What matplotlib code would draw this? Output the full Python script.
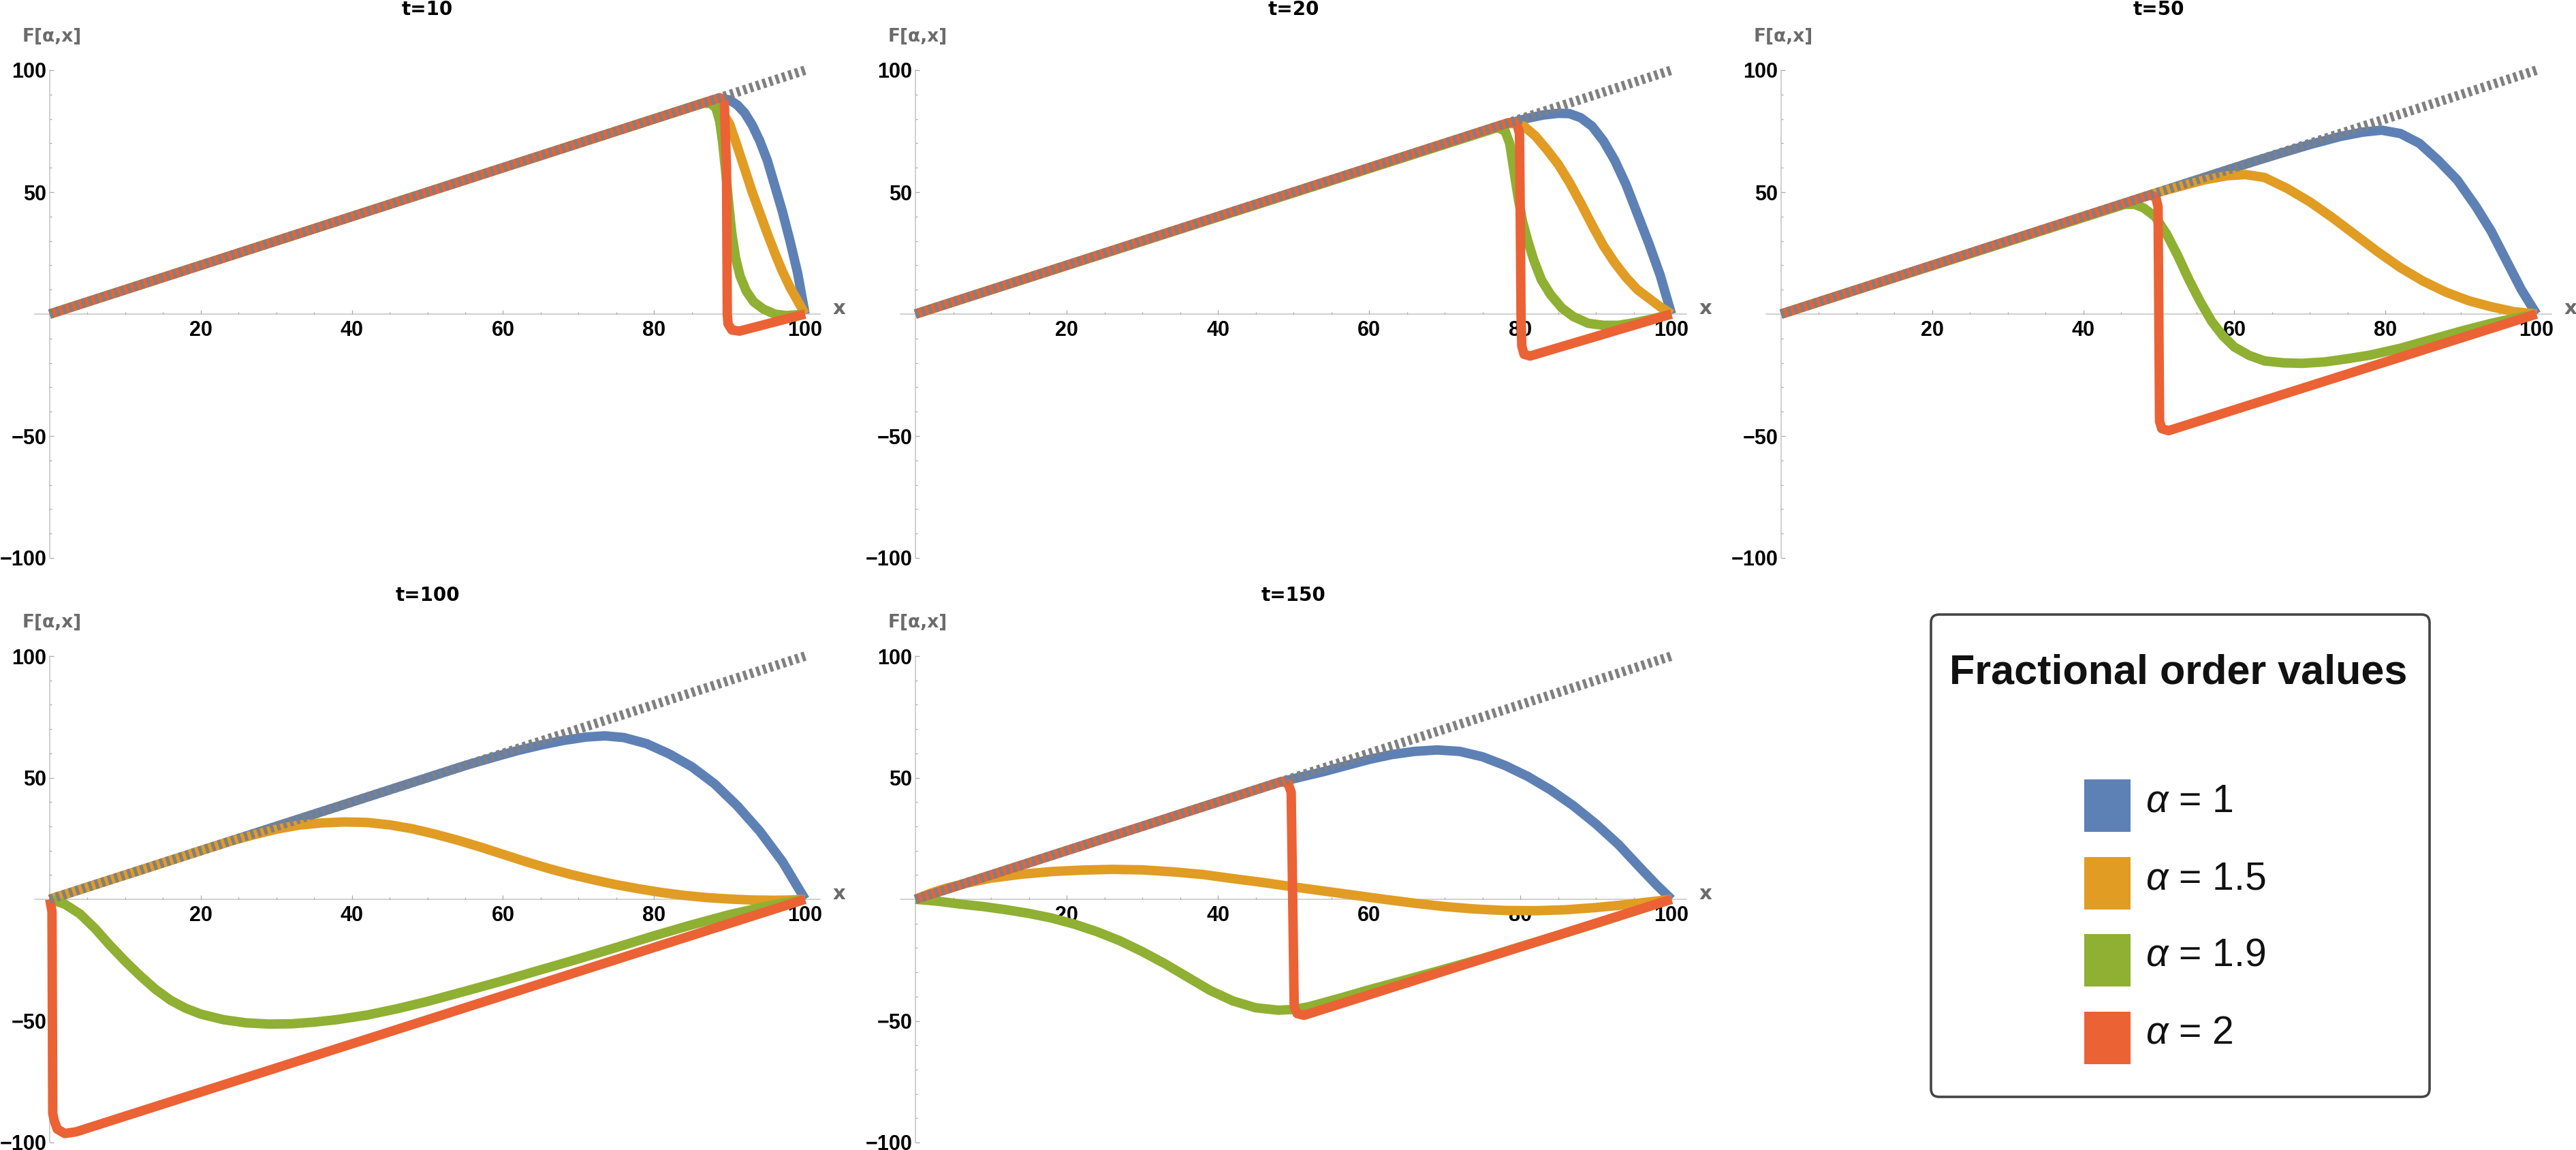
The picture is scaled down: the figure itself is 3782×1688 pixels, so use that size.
import numpy as np
import matplotlib
matplotlib.use('Agg')
import matplotlib.pyplot as plt
from matplotlib.patches import FancyBboxPatch, Rectangle

plt.rcParams['font.family'] = ['Liberation Sans', 'DejaVu Sans']
plt.rcParams['mathtext.fontset'] = 'custom'
plt.rcParams['mathtext.rm'] = 'Liberation Sans'
plt.rcParams['mathtext.it'] = 'Liberation Sans:italic'

# ---- data: (x, F) points per panel and fractional order ----
times = [10, 20, 50, 100, 150]
alpha_labels = ['α = 1', 'α = 1.5', 'α = 1.9', 'α = 2']
colors = ['#5E81B5', '#E19C24', '#8FB032', '#EB6235']

diag = [(0, 0), (100, 100)]

t10_a1 = [(0, 0), (88, 88), (89, 88.3), (90, 87.8), (91, 85.8), (92, 82.5), (93, 77.5), (94, 71),
          (95, 63), (96, 52.5), (97, 42), (98, 30), (99, 17), (100, 0)]
t10_a15 = [(0, 0), (87, 87), (88, 86.3), (88.8, 84.5), (89.4, 81), (90, 78), (91, 69), (92, 59.5),
           (93, 50), (94, 41.5), (95, 33), (96, 25), (97, 17.5), (98, 11), (99, 5.5), (100, 0)]
t10_a19 = [(0, 0), (86.5, 86.5), (87.5, 86.3), (88.2, 84.5), (88.7, 79), (89.1, 70), (89.5, 58),
           (89.9, 45), (90.3, 33), (90.8, 23), (91.4, 15.5), (92.2, 9.5), (93.2, 5), (94.5, 2),
           (96, 0), (97.5, -0.6), (99, -0.3), (100, 0)]
t10_a2 = [(0, 0), (88.7, 88.7), (89.3, 87), (89.6, 60), (89.7, 0), (89.8, -4), (90.3, -6.5),
          (91.3, -7), (100, 0)]

t20_a1 = [(0, 0), (77, 77), (79, 78.6), (81, 80.3), (83, 81.6), (85, 82.3), (86.5, 82.2), (88, 80.5),
          (89.5, 77), (91, 71), (92.5, 63), (94, 53), (95.5, 41), (97, 29), (98.5, 16), (100, 0)]
t20_a15 = [(0, 0), (78, 78), (79.3, 78.2), (80.5, 77), (82, 73), (83.5, 67.5), (85, 61.5), (86.5, 54),
           (88, 45.5), (89.5, 36.5), (91, 28), (92.5, 21), (94, 15), (95.5, 10), (97, 6.5),
           (98.5, 3), (100, 0)]
t20_a19 = [(0, 0), (77, 76.5), (78, 75), (78.6, 70), (79.1, 60), (79.7, 48), (80.3, 38), (81, 30),
           (81.8, 22), (82.8, 14), (84, 8), (85.5, 2.5), (87, -1), (89, -3.8), (91, -4.6), (93, -4.6),
           (95, -3.6), (97, -2.3), (100, 0)]
t20_a2 = [(0, 0), (78.5, 78.5), (79.5, 78.5), (79.9, 74), (80, 40), (80.1, 0), (80.2, -13),
          (80.5, -16.5), (81.3, -17.2), (100, 0)]

t50_a1 = [(0, 0), (62, 62), (66, 65.8), (70, 69.5), (74, 72.8), (77, 74.6), (79.5, 75.4), (82, 74),
          (84.5, 70), (87, 63), (89.5, 55), (92, 44), (94, 34), (96, 22), (98, 10), (100, 0)]
t50_a15 = [(0, 0), (50, 50), (53, 52.5), (56, 55), (59, 56.7), (61.5, 57.2), (64, 56), (67, 51.5),
           (70, 46), (73, 39.5), (76, 32.5), (79, 25.5), (82, 19), (85, 13.5), (88, 9), (91, 5.5),
           (94, 3), (97, 1), (100, 0)]
t50_a19 = [(0, 0), (45.5, 45), (46.8, 45), (48, 43.5), (49.5, 40), (51, 33), (52.5, 24), (54, 14),
           (55.5, 5), (57, -3), (58.5, -9), (60, -13.5), (62, -17), (64, -19.2), (66.5, -20),
           (69, -20.2), (72, -19.6), (75, -18.3), (78, -16.8), (82, -14), (86, -10.5), (90, -7),
           (94, -3.8), (97, -1.8), (100, 0)]
t50_a2 = [(0, 0), (48.8, 48.8), (49.6, 48), (49.9, 44), (50, 0), (50.1, -44), (50.4, -47),
          (51.3, -47.8), (100, 0)]

t100_a1 = [(0, 0), (55, 55), (59, 58.6), (62, 61.2), (65, 63.4), (68, 65.3), (71, 66.7), (73.5, 67.2),
           (76, 66.5), (79, 64), (82, 59.8), (85, 54.5), (88, 47.5), (91, 38.5), (94, 28), (97, 15.5),
           (100, 0)]
t100_a15 = [(0, 0), (24, 24), (27, 26.5), (30, 28.8), (33, 30.5), (36, 31.4), (39, 31.8), (42, 31.6),
            (45, 30.6), (48, 29), (51, 26.8), (54, 24.3), (57, 21.5), (60, 18.5), (63, 15.5),
            (66, 12.7), (69, 10.2), (72, 8), (75, 6), (78, 4.3), (81, 2.8), (84, 1.6), (87, 0.7),
            (90, 0.1), (93, -0.3), (96, -0.4), (98, -0.3), (100, 0)]
t100_a19 = [(0, 0), (2, -2), (4, -6), (6, -12), (8, -19), (10, -25.5), (12, -31.5), (14, -37),
            (16, -41.5), (18, -44.8), (20, -47.2), (23, -49.5), (26, -50.8), (29, -51.3),
            (32, -51.2), (35, -50.5), (38, -49.5), (42, -47.6), (46, -45), (50, -42), (55, -37.8),
            (60, -33.5), (65, -29), (70, -24.5), (75, -19.8), (80, -15), (85, -10.5), (90, -6.3),
            (95, -2.8), (100, 0)]
t100_a2 = [(0, 0), (0.3, -5), (0.4, -88), (0.6, -91), (1.0, -94.5), (2, -96.3), (3.5, -95.6), (100, 0)]

t150_a1 = [(0, 0), (48, 48), (51, 50.3), (54, 52.5), (57, 55), (60, 57.5), (63, 59.5), (66, 60.8),
           (69, 61.4), (72, 60.8), (75, 58.6), (78, 55), (81, 50.5), (84, 45), (87, 38.5), (90, 31),
           (93, 22.5), (96, 12.5), (98, 6), (100, 0)]
t150_a15 = [(0, 0), (2, 2.5), (4, 4.5), (7, 6.8), (10, 8.7), (14, 10.3), (18, 11.4), (22, 12),
            (26, 12.3), (30, 12.1), (34, 11.3), (38, 10.2), (42, 8.5), (46, 6.9), (50, 5.1),
            (54, 3.4), (58, 1.7), (62, 0), (66, -1.6), (70, -3), (74, -4), (78, -4.6), (82, -4.7),
            (86, -4.3), (90, -3.4), (94, -2.2), (97, -1.1), (100, 0)]
t150_a19 = [(0, 0), (3, -0.8), (6, -2), (9, -3), (12, -4.3), (15, -5.8), (18, -7.7), (21, -10.2),
            (24, -13.3), (27, -17), (30, -21.5), (33, -26.5), (36, -32), (39, -37.5), (42, -41.8),
            (45, -44.6), (48, -45.6), (50, -45.3), (52, -44.2), (56, -40.8), (60, -37.2), (65, -33),
            (70, -28.7), (75, -24.3), (80, -19.5), (85, -14.8), (90, -10), (95, -5), (100, 0)]
t150_a2 = [(0, 0), (48.5, 48.5), (49.3, 47.5), (49.7, 44), (49.9, 0), (50.1, -44), (50.5, -47),
           (51.4, -47.7), (100, 0)]

curves = [
    [t10_a1, t10_a15, t10_a19, t10_a2],
    [t20_a1, t20_a15, t20_a19, t20_a2],
    [t50_a1, t50_a15, t50_a19, t50_a2],
    [t100_a1, t100_a15, t100_a19, t100_a2],
    [t150_a1, t150_a15, t150_a19, t150_a2],
]

# ---- layout (pixels of the 3782x1688 image) ----
W, H = 3782, 1688
fig = plt.figure(figsize=(W / 100, H / 100), dpi=100)

# (x of 0, x of 100, y of +100, y of -100)
panel_px = [
    (73, 1182, 103, 819),
    (1344, 2454, 103, 819),
    (2615, 3724, 103, 819),
    (73, 1182, 963, 1677),
    (1344, 2454, 963, 1677),
]


def panel_axes(x0, x100, y100, ym100, xlim, ylim):
    sx = (x100 - x0) / 100
    yc = (y100 + ym100) / 2
    sy = (ym100 - y100) / 200
    left = x0 + xlim[0] * sx
    right = x0 + xlim[1] * sx
    top = yc - ylim[1] * sy
    bottom = yc - ylim[0] * sy
    return fig.add_axes([left / W, 1 - bottom / H, (right - left) / W, (bottom - top) / H])


axis_gray = '#c4c4c4'
for i, (t, pc) in enumerate(zip(times, panel_px)):
    xlim = (-2, 102)
    ylim = (-101, 101) if i < 3 else (-100.6, 101)
    ax = panel_axes(*pc, xlim, ylim)
    ax.set_xlim(*xlim)
    ax.set_ylim(*ylim)
    ax.patch.set_alpha(0)

    for data, c in zip(curves[i], colors):
        xs = [p[0] for p in data]
        ys = [p[1] for p in data]
        ax.plot(xs, ys, color=c, lw=10, solid_capstyle='butt', solid_joinstyle='round',
                clip_on=False, zorder=3)
    ax.plot([p[0] for p in diag], [p[1] for p in diag], color='#808080', lw=10,
            dashes=(0.36, 0.36), dash_capstyle='butt', clip_on=False, zorder=4)

    for s in ['top', 'right']:
        ax.spines[s].set_visible(False)
    ax.spines['left'].set_position(('data', 0))
    ax.spines['bottom'].set_position(('data', 0))
    ax.spines['left'].set_bounds(-100, 100)
    ax.spines['bottom'].set_bounds(-2, 102)
    for s in ['left', 'bottom']:
        ax.spines[s].set_color(axis_gray)
        ax.spines[s].set_linewidth(1.1)
        ax.spines[s].set_zorder(1)

    ax.set_xticks([20, 40, 60, 80, 100])
    ax.set_xticks(np.arange(5, 100, 5), minor=True)
    ax.set_yticks([-100, -50, 50, 100])
    ax.set_yticks(np.arange(-90, 100, 10), minor=True)
    ax.tick_params(which='both', direction='in', color='#a8a8a8', width=0.9)
    ax.tick_params(which='major', length=4.5)
    ax.tick_params(which='minor', length=2.5)
    ax.tick_params(axis='x', which='major', pad=6.5)
    ax.tick_params(axis='y', which='major', pad=3.5)
    for lab in ax.get_xticklabels() + ax.get_yticklabels():
        lab.set_fontsize(22)
        lab.set_fontweight('bold')

    ax.text(50, 125, 't=%d' % t, ha='center', va='center', fontsize=20, fontweight='bold',
            color='black', family='DejaVu Sans')
    ax.text(0.3, 113.8, 'F[α,x]', ha='center', va='center', fontsize=19,
            fontweight='bold', color='#6b6b6b', family='DejaVu Sans')
    ax.text(104.5, 2.2, 'x', ha='center', va='center', fontsize=21, fontweight='bold',
            color='#6b6b6b', family='DejaVu Sans')

# ---- legend box drawn in pixel coordinates ----
ov = fig.add_axes([0, 0, 1, 1])
ov.set_xlim(0, W)
ov.set_ylim(H, 0)
ov.axis('off')
ov.patch.set_alpha(0)

ov.add_patch(FancyBboxPatch((2835, 902), 732, 708, boxstyle='round,pad=0,rounding_size=12',
                            facecolor='white', edgecolor='#444444', lw=2.6))
ov.text(3198, 1004, 'Fractional order values', ha='center', va='baseline', fontsize=44,
        fontweight='bold', color='#111111')
entry_y = [1182, 1296, 1409, 1523]
for yc, c, lab in zip(entry_y, colors, alpha_labels):
    ov.add_patch(Rectangle((3060, yc - 38), 68, 77, facecolor=c, edgecolor='none'))
    ov.text(3150, yc + 9, lab.replace('α', r'$\alpha$'), ha='left', va='baseline', fontsize=41,
            color='#111111')

fig.savefig('out.png', dpi=100)
